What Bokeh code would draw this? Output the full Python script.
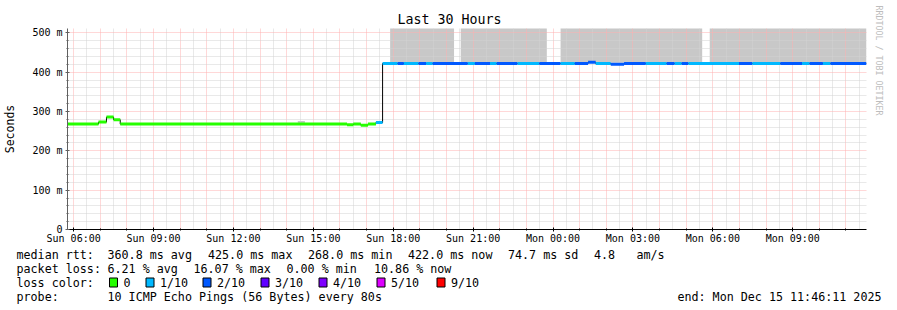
import pandas as pd
from bokeh.plotting import figure
from bokeh.layouts import column
from bokeh.models import Range1d, FixedTicker, ColumnDataSource, Title
from bokeh.core.properties import value
from bokeh.embed import file_html
from bokeh.resources import INLINE

FONT = "DejaVu Sans Mono"

# ---------------- data ----------------
start_time = "2025-12-14 05:46:11"
end_time = "2025-12-15 11:46:11"

# median rtt runs (start of each run), value in ms, loss in tenths
median_start = [
    "2025-12-14 05:46:11", "2025-12-14 06:56", "2025-12-14 07:14", "2025-12-14 07:30",
    "2025-12-14 07:45", "2025-12-14 16:16", "2025-12-14 16:30", "2025-12-14 16:47",
    "2025-12-14 17:03", "2025-12-14 17:21", "2025-12-14 17:36", "2025-12-14 18:10",
    "2025-12-14 18:24", "2025-12-14 18:57", "2025-12-14 19:14", "2025-12-14 19:29",
    "2025-12-14 20:48", "2025-12-14 21:04", "2025-12-14 21:38", "2025-12-14 21:53",
    "2025-12-14 22:40", "2025-12-14 23:29", "2025-12-15 00:17", "2025-12-15 00:49",
    "2025-12-15 01:19", "2025-12-15 01:36", "2025-12-15 02:10", "2025-12-15 02:40",
    "2025-12-15 03:29", "2025-12-15 04:16", "2025-12-15 04:34", "2025-12-15 04:50",
    "2025-12-15 05:05", "2025-12-15 06:59", "2025-12-15 07:29", "2025-12-15 08:32",
    "2025-12-15 09:21", "2025-12-15 09:38", "2025-12-15 10:08", "2025-12-15 10:25",
]
median_ms = [
    268, 273, 286, 279,
    268, 266, 268, 265,
    268, 272, 422, 422,
    422, 422, 422, 422,
    422, 422, 422, 422,
    422, 422, 422, 422,
    425, 422, 420, 422,
    422, 422, 422, 422,
    422, 422, 422, 422,
    422, 422, 422, 422,
]
median_loss = [
    0, 0, 0, 0,
    0, 0, 0, 0,
    0, 1, 1, 2,
    1, 2, 1, 2,
    1, 2, 1, 2,
    1, 2, 1, 2,
    2, 1, 2, 2,
    1, 2, 1, 2,
    1, 2, 1, 2,
    1, 2, 1, 2,
]

# smoke (spread of pings)
smoke_start = ["2025-12-14 14:25", "2025-12-14 17:53", "2025-12-14 20:32",
               "2025-12-15 00:17", "2025-12-15 05:53"]
smoke_end = ["2025-12-14 14:41", "2025-12-14 20:17", "2025-12-14 23:46",
             "2025-12-15 05:36", "2025-12-15 11:46:11"]
smoke_low = [271, 424, 424, 424, 424]
smoke_high = [276, 600, 600, 600, 600]

loss_levels = [0, 1, 2, 3, 4, 5, 9]
loss_labels = ["0", "1/10", "2/10", "3/10", "4/10", "5/10", "9/10"]
loss_colors = ["#26ff00", "#00b8ff", "#0059ff", "#5e00ff", "#7e00ff", "#dd00ff", "#ff0000"]

x_tick_times = ["2025-12-14 06:00", "2025-12-14 09:00", "2025-12-14 12:00",
                "2025-12-14 15:00", "2025-12-14 18:00", "2025-12-14 21:00",
                "2025-12-15 00:00", "2025-12-15 03:00", "2025-12-15 06:00",
                "2025-12-15 09:00"]
x_tick_labels = ["Sun 06:00", "Sun 09:00", "Sun 12:00", "Sun 15:00", "Sun 18:00",
                 "Sun 21:00", "Mon 00:00", "Mon 03:00", "Mon 06:00", "Mon 09:00"]
y_ticks = [0, 100, 200, 300, 400, 500]
y_tick_labels = ["0", "100 m", "200 m", "300 m", "400 m", "500 m"]

title_text = "Last 30 Hours"
y_label = "Seconds"
legend_rtt = ["median rtt:", "360.8 ms avg", "425.0 ms max", "268.0 ms min",
              "422.0 ms now", "74.7 ms sd", "4.8", "am/s"]
legend_loss = ["packet loss:", "6.21 % avg", "16.07 % max", "0.00 % min", "10.86 % now"]
loss_title = "loss color:"
probe_text = ["probe:", "10 ICMP Echo Pings (56 Bytes) every 80s"]
end_text = "end: Mon Dec 15 11:46:11 2025"
watermark = "RRDTOOL / TOBI OETIKER"


def ms(s):
    return pd.Timestamp(s).value // 10**6


t0, t1 = ms(start_time), ms(end_time)

# ---------------- layout constants ----------------
W = 897
H1 = 246          # chart part
H2 = 310 - H1     # legend part
L, R, T, B = 66, 31, 28, H1 - 229

p = figure(width=W, height=H1, output_backend="svg", toolbar_location=None,
           x_range=Range1d(t0, t1), y_range=Range1d(0, 511),
           min_border_left=L, min_border_right=R, min_border_top=T, min_border_bottom=B)
p.outline_line_color = None
p.background_fill_color = "white"
p.border_fill_color = "white"
try:
    p.frame_align = False
except Exception:
    pass

p.title = Title(text=title_text, align="left", offset=330, standoff=3,
                text_font=FONT, text_font_size="13.3px", text_font_style="normal",
                text_color="black")
p.add_layout(Title(text=watermark, align="left", offset=-23, standoff=10,
                   vertical_align="top",
                   text_font=FONT, text_font_size="8.3px", text_font_style="normal",
                   text_color="#bdbdbd"), "right")

# ---------------- grid ----------------
hours = [ms(t) for t in pd.date_range("2025-12-14 06:00", "2025-12-15 11:00", freq="h")]
halfs = [ms(t) for t in pd.date_range("2025-12-14 06:30", "2025-12-15 11:30", freq="h")]
y_minor = [v for v in range(20, 511, 20) if v % 100]
p.xgrid.ticker = FixedTicker(ticks=hours, minor_ticks=halfs)
p.ygrid.ticker = FixedTicker(ticks=y_ticks, minor_ticks=y_minor)
for g in (p.xgrid, p.ygrid):
    g.grid_line_color = "#ffb0b0"
    g.grid_line_dash = "1 1"
    g.grid_line_width = 1
    g.minor_grid_line_color = "#d2d2d2"
    g.minor_grid_line_dash = "1 1"
    g.minor_grid_line_width = 1
    g.level = "underlay"

# ---------------- axes ----------------
xt = [ms(t) for t in x_tick_times]
p.xaxis.ticker = FixedTicker(ticks=xt, minor_ticks=hours)
p.xaxis.major_label_overrides = {k: v for k, v in zip(xt, x_tick_labels)}
p.yaxis.ticker = FixedTicker(ticks=y_ticks, minor_ticks=y_minor)
p.yaxis.major_label_overrides = {k: v for k, v in zip(y_ticks, y_tick_labels)}

for ax in (p.xaxis, p.yaxis):
    ax.major_label_text_font = FONT
    ax.major_label_text_font_size = "10px"
    ax.major_label_text_color = "black"
    ax.major_tick_in = 2
    ax.major_tick_out = 2
    ax.minor_tick_in = 1
    ax.minor_tick_out = 1
p.xaxis.axis_line_color = "black"
p.xaxis.major_tick_line_color = "black"
p.xaxis.minor_tick_line_color = "black"
p.xaxis.major_label_standoff = 1
p.yaxis.axis_line_color = "#606060"
p.yaxis.major_tick_line_color = "#606060"
p.yaxis.minor_tick_line_color = "#606060"
p.yaxis.major_label_standoff = 3
p.yaxis.axis_label = y_label
p.yaxis.axis_label_text_font = FONT
p.yaxis.axis_label_text_font_size = "11.5px"
p.yaxis.axis_label_text_font_style = "normal"
p.yaxis.axis_label_text_color = "black"
p.yaxis.axis_label_standoff = 12

# ---------------- glyphs ----------------
smoke = ColumnDataSource(dict(left=[ms(t) for t in smoke_start],
                              right=[ms(t) for t in smoke_end],
                              bottom=smoke_low, top=smoke_high))
p.quad(left="left", right="right", bottom="bottom", top="top", source=smoke,
       fill_color="#c8c8c8", line_color=None, level="image")

xs = [ms(t) for t in median_start]
xe = xs[1:] + [t1]
p.step(x=xs + [t1], y=median_ms + [median_ms[-1]], mode="after",
       line_color="black", line_width=1)
cmap = dict(zip(loss_levels, loss_colors))
seg = ColumnDataSource(dict(x0=xs, x1=xe, y=median_ms,
                            c=[cmap[l] for l in median_loss]))
p.segment(x0="x0", x1="x1", y0="y", y1="y", source=seg, line_color="c",
          line_width=3, line_cap="butt")

# ---------------- legend panel (canvas pixel coordinates) ----------------
q = figure(frame_width=W, frame_height=H2, output_backend="svg", toolbar_location=None,
           x_range=Range1d(0, W), y_range=Range1d(310, H1),
           min_border=0, min_border_left=0, min_border_right=0,
           min_border_top=0, min_border_bottom=0)
q.axis.visible = False
q.grid.visible = False
q.outline_line_color = None
q.background_fill_color = "white"
q.border_fill_color = "white"
try:
    q.frame_align = False
except Exception:
    pass

rtt_x = [16, 107, 207.5, 307.5, 407.5, 507.5, 593.5, 636]
loss_x = [16, 107, 193, 286, 373.5]
box_x = [108.5, 145, 202, 260, 318, 376, 436]

tx, ty, tt, ta = [], [], [], []
for X, s in zip(rtt_x, legend_rtt):
    tx.append(X); ty.append(254); tt.append(s); ta.append("left")
for X, s in zip(loss_x, legend_loss):
    tx.append(X); ty.append(268); tt.append(s); ta.append("left")
tx.append(16); ty.append(282); tt.append(loss_title); ta.append("left")
for X, s in zip(box_x, loss_labels):
    tx.append(X + 14.5); ty.append(282); tt.append(s); ta.append("left")
tx += [16, 107, 881]
ty += [296, 296, 296]
tt += [probe_text[0], probe_text[1], end_text]
ta += ["left", "left", "right"]

q.text(x="x", y="y", text="t", text_align="a",
       source=ColumnDataSource(dict(x=tx, y=ty, t=tt, a=ta)),
       text_font=value(FONT), text_font_size="11.7px", text_color="black",
       text_baseline="middle")
q.quad(left=[X + 0.5 for X in box_x], right=[X + 8.5 for X in box_x],
       top=[277.5] * len(box_x), bottom=[286.5] * len(box_x),
       fill_color=loss_colors, line_color="black", line_width=1)

layout = column(p, q, spacing=0)
open("out.html", "w").write(file_html(layout, INLINE))
